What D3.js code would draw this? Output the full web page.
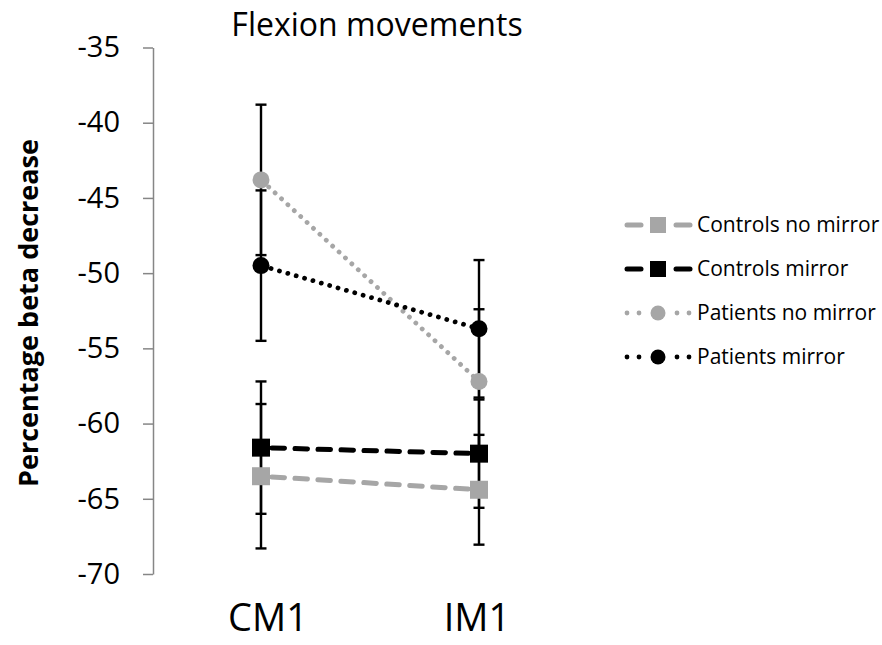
<!DOCTYPE html>
<html>
<head>
<meta charset="utf-8">
<script src="https://cdn.jsdelivr.net/npm/d3@7"></script>
<style>
  body { margin: 0; background: #fff; }
  svg { display: block; font-family: "Open Sans", sans-serif; }
</style>
</head>
<body>
<div id="chart"></div>
<script>
// data
const categories = ['CM1', 'IM1'];
const seriesNames = ['Controls no mirror', 'Controls mirror', 'Patients no mirror', 'Patients mirror'];
const controlsNoMirror = [-63.5, -64.4];
const controlsMirror = [-61.6, -62.0];
const patientsNoMirror = [-43.8, -57.2];
const patientsMirror = [-49.5, -53.7];
const controlsNoMirrorErr = [4.8, 3.65];
const controlsMirrorErr = [4.4, 3.6];
const patientsNoMirrorErr = [5.0, 4.8];
const patientsMirrorErr = [5.0, 4.57];
const yTicks = [-35, -40, -45, -50, -55, -60, -65, -70];

const gray = '#a6a6a6';
const series = [
  { name: seriesNames[0], values: controlsNoMirror, err: controlsNoMirrorErr, color: gray, shape: 'square', dash: '12.5,10.5' },
  { name: seriesNames[1], values: controlsMirror, err: controlsMirrorErr, color: '#000', shape: 'square', dash: '12.5,10.5' },
  { name: seriesNames[2], values: patientsNoMirror, err: patientsNoMirrorErr, color: gray, shape: 'circle', dash: '0.01,8.7' },
  { name: seriesNames[3], values: patientsMirror, err: patientsMirrorErr, color: '#000', shape: 'circle', dash: '0.01,8.7' }
];

const svg = d3.select('#chart').append('svg')
  .attr('width', 882)
  .attr('height', 645);

const y = d3.scaleLinear().domain([-70, -35]).range([574, 47.5]);
const x = d3.scalePoint().domain(categories).range([261, 479]);
const axisX = 153;

// y axis
const yAxis = svg.append('g')
  .attr('transform', `translate(${axisX},0)`)
  .call(d3.axisLeft(y).tickValues(yTicks).tickFormat(d => String(d))
    .tickSize(10).tickSizeOuter(0).tickPadding(23));
yAxis.select('.domain').attr('stroke', '#868686').attr('stroke-width', 1.5);
yAxis.selectAll('.tick line').attr('stroke', '#868686').attr('stroke-width', 1.5);
yAxis.selectAll('.tick text')
  .attr('font-family', '"Open Sans", sans-serif')
  .attr('font-size', '29px')
  .attr('fill', '#000');

// axis title
svg.append('text')
  .attr('transform', 'translate(38,313) rotate(-90)')
  .attr('text-anchor', 'middle')
  .attr('font-size', '27px')
  .attr('font-weight', 'bold')
  .attr('fill', '#000')
  .text('Percentage beta decrease');

// chart title
svg.append('text')
  .attr('x', 377)
  .attr('y', 36)
  .attr('text-anchor', 'middle')
  .attr('font-size', '32px')
  .attr('fill', '#000')
  .text('Flexion movements');

// category labels
svg.selectAll('.cat')
  .data(categories)
  .enter().append('text')
  .attr('class', 'cat')
  .attr('x', d => x(d) + (d === 'CM1' ? 7 : -2))
  .attr('y', 631)
  .attr('text-anchor', 'middle')
  .attr('font-size', '38px')
  .attr('fill', '#000')
  .text(d => d);

// error bars (under everything else)
const capHalf = 5.5;
series.forEach(s => {
  s.values.forEach((v, i) => {
    const cx = x(categories[i]);
    const top = y(v + s.err[i]);
    const bot = y(v - s.err[i]);
    const g = svg.append('g').attr('stroke', '#000').attr('stroke-width', 2.4);
    g.append('line').attr('x1', cx).attr('x2', cx).attr('y1', top).attr('y2', bot);
    g.append('line').attr('x1', cx - capHalf).attr('x2', cx + capHalf).attr('y1', top).attr('y2', top);
    g.append('line').attr('x1', cx - capHalf).attr('x2', cx + capHalf).attr('y1', bot).attr('y2', bot);
  });
});

function drawMarker(g, shape, cx, cy, color, size) {
  if (shape === 'square') {
    g.append('rect')
      .attr('x', cx - size / 2)
      .attr('y', cy - size / 2)
      .attr('width', size)
      .attr('height', size)
      .attr('fill', color);
  } else {
    g.append('circle')
      .attr('cx', cx)
      .attr('cy', cy)
      .attr('r', size / 2)
      .attr('fill', color);
  }
}

const line = d3.line()
  .x((d, i) => x(categories[i]))
  .y(d => y(d));

// series lines and markers
series.forEach(s => {
  const g = svg.append('g');
  const markerSize = s.shape === 'square' ? 18 : 17;
  g.append('path')
    .datum(s.values)
    .attr('d', line)
    .attr('fill', 'none')
    .attr('stroke', s.color)
    .attr('stroke-width', s.shape === 'square' ? 5 : 4.8)
    .attr('stroke-linecap', 'round')
    .attr('stroke-dasharray', s.dash)
    .attr('stroke-dashoffset', -markerSize / 2 - 2);
  s.values.forEach((v, i) => drawMarker(g, s.shape, x(categories[i]), y(v), s.color, markerSize));
});

// legend
const legend = svg.append('g');
series.forEach((s, i) => {
  const ly = 225 + i * 44;
  const g = legend.append('g');
  if (s.shape === 'square') {
    [[627, 641], [676, 690]].forEach(seg => {
      g.append('line')
        .attr('x1', seg[0]).attr('x2', seg[1])
        .attr('y1', ly).attr('y2', ly)
        .attr('stroke', s.color)
        .attr('stroke-width', 5)
        .attr('stroke-linecap', 'round');
    });
  } else {
    [627, 639, 677, 689].forEach(dx => {
      g.append('circle').attr('cx', dx).attr('cy', ly).attr('r', 2.4).attr('fill', s.color);
    });
  }
  drawMarker(g, s.shape, 658, ly, s.color, s.shape === 'square' ? 16 : 15);
  g.append('text')
    .attr('x', 697)
    .attr('y', ly)
    .attr('dy', '0.35em')
    .attr('font-size', '21px')
    .attr('fill', '#000')
    .text(s.name);
});
</script>
</body>
</html>
